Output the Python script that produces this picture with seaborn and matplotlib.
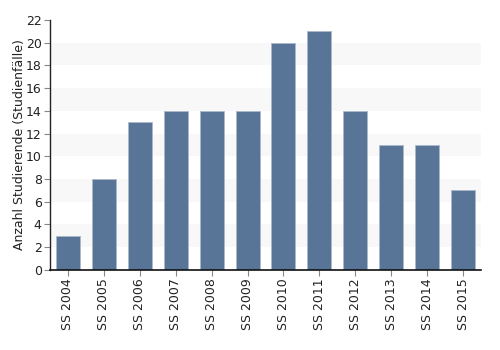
import matplotlib
matplotlib.use("Agg")
import matplotlib.pyplot as plt
import seaborn as sns
import pandas as pd

semesters = ["SS 2004", "SS 2005", "SS 2006", "SS 2007", "SS 2008", "SS 2009",
             "SS 2010", "SS 2011", "SS 2012", "SS 2013", "SS 2014", "SS 2015"]
counts = [3, 8, 13, 14, 14, 14, 20, 21, 14, 11, 11, 7]
y_ticks = [0, 2, 4, 6, 8, 10, 12, 14, 16, 18, 20, 22]

df = pd.DataFrame({"Semester": semesters, "Anzahl": counts})

sns.set_theme(style="white")
plt.rcParams['font.family'] = ['DejaVu Sans']

fig = plt.figure(figsize=(5, 3.5), dpi=100)
ax = fig.add_axes([0.100, 0.229, 0.862, 0.714])

for lo in range(2, 20, 4):
    ax.axhspan(lo, lo + 2, color="#f8f8f8", zorder=0, lw=0)

sns.barplot(data=df, x="Semester", y="Anzahl", color="#587496", saturation=1,
            width=0.67, edgecolor="#a9b8ca", linewidth=0.6, ax=ax, zorder=2)

ax.set_ylim(0, 22)
ax.set_xlim(-0.5, len(semesters) - 0.5)
ax.set_yticks(y_ticks)
ax.set_yticklabels([str(v) for v in y_ticks], fontsize=9, color="#222222")
ax.set_xticks(range(len(semesters)))
ax.set_xticklabels(semesters, rotation=90, fontsize=9, color="#222222")
ax.set_xlabel("")
ax.set_ylabel("Anzahl Studierende (Studienfälle)", fontsize=9, color="#222222")
ax.yaxis.set_label_coords(-0.056, 0.5)
ax.tick_params(axis="both", which="both", length=4, width=0.8, color="#888888",
               bottom=True, left=True, pad=2)
for s in ["top", "right"]:
    ax.spines[s].set_visible(False)
ax.spines["left"].set_color("#222222")
ax.spines["bottom"].set_color("#111111")
ax.spines["left"].set_linewidth(1)
ax.spines["bottom"].set_linewidth(1.2)

fig.savefig("out.png", dpi=100)
